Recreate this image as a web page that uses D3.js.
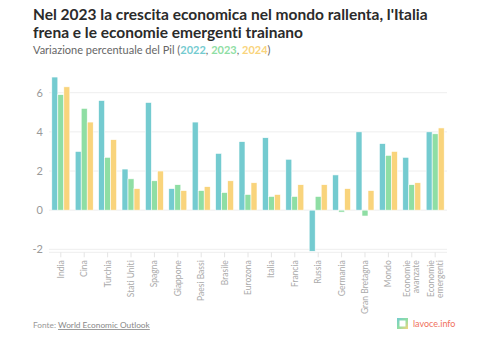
<!DOCTYPE html>
<html>
<head>
<meta charset="utf-8">
<script src="https://cdn.jsdelivr.net/npm/d3@7"></script>
<style>
  body { margin: 0; background: #fff; font-family: Lato, "Noto Sans", sans-serif; }
  svg { display: block; font-variant-ligatures: none; }
</style>
</head>
<body>
<div data-output></div>
<script>
const SIZE = { WIDTH: 500, HEIGHT: 338 };

// growth of GDP, % per year
const countries = ['India', 'Cina', 'Turchia', 'Stati Uniti', 'Spagna', 'Giappone', 'Paesi Bassi',
  'Brasile', 'Eurozona', 'Italia', 'Francia', 'Russia', 'Germania', 'Gran Bretagna', 'Mondo',
  'Economie avanzate', 'Economie emergenti'];
const years = ['2022', '2023', '2024'];
const v2022 = [6.8, 3.0, 5.6, 2.1, 5.5, 1.1, 4.5, 2.9, 3.5, 3.7, 2.6, -2.1, 1.8, 4.0, 3.4, 2.7, 4.0];
const v2023 = [5.9, 5.2, 2.7, 1.6, 1.5, 1.3, 1.0, 0.9, 0.8, 0.7, 0.7, 0.7, -0.1, -0.3, 2.8, 1.3, 3.9];
const v2024 = [6.3, 4.5, 3.6, 1.1, 2.0, 1.0, 1.2, 1.5, 1.4, 0.8, 1.3, 1.3, 1.1, 1.0, 3.0, 1.4, 4.2];
const yTicks = [-2, 0, 2, 4, 6];

const colors = { '2022': '#74cbd0', '2023': '#8fdea4', '2024': '#f9d47c' };

const series = { '2022': v2022, '2023': v2023, '2024': v2024 };
const data = countries.map((c, i) => ({
  name: c,
  values: years.map(y => ({ year: y, value: series[y][i] }))
}));

const margin = { top: 82, right: 53, bottom: 89, left: 49 };
const width = SIZE.WIDTH - margin.left - margin.right;

const svg = d3.select('[data-output]').append('svg')
  .attr('width', SIZE.WIDTH)
  .attr('height', SIZE.HEIGHT);

// titles
svg.append('text')
  .attr('x', 33).attr('y', 20)
  .attr('font-size', 15.5).attr('font-weight', 700).attr('fill', '#2b2b2b')
  .text("Nel 2023 la crescita economica nel mondo rallenta, l'Italia");
svg.append('text')
  .attr('x', 33).attr('y', 38)
  .attr('font-size', 15.5).attr('font-weight', 700).attr('fill', '#2b2b2b')
  .text('frena e le economie emergenti trainano');

const sub = svg.append('text')
  .attr('x', 33).attr('y', 54)
  .attr('font-size', 11).attr('fill', '#666');
sub.append('tspan').text('Variazione percentuale del Pil (');
years.forEach((y, i) => {
  sub.append('tspan').attr('fill', colors[y]).attr('font-weight', 700).text(y);
  sub.append('tspan').text(i < years.length - 1 ? ', ' : ')');
});

// scales
const x0 = d3.scaleBand().domain(countries).range([0, width]).paddingInner(0.23).paddingOuter(0.12);
const x1 = d3.scaleBand().domain(years).range([0, x0.bandwidth()]);
const y = d3.scaleLinear().domain([-2, 6]).range([249.3 - margin.top, 92.7 - margin.top]);

const g = svg.append('g').attr('transform', `translate(${margin.left}, ${margin.top})`);

// gridlines + y labels
g.append('g')
  .selectAll('line')
  .data(yTicks)
  .join('line')
  .attr('x1', 0).attr('x2', width)
  .attr('y1', d => y(d)).attr('y2', d => y(d))
  .attr('stroke', '#eeeeee').attr('stroke-width', 1);

g.append('g')
  .selectAll('text')
  .data(yTicks)
  .join('text')
  .attr('x', -6).attr('y', d => y(d)).attr('dy', '0.35em')
  .attr('text-anchor', 'end')
  .attr('font-size', 11).attr('fill', '#999')
  .text(d => d);

// bars
g.append('g')
  .selectAll('g')
  .data(data)
  .join('g')
  .attr('transform', d => `translate(${x0(d.name)}, 0)`)
  .selectAll('rect')
  .data(d => d.values)
  .join('rect')
  .attr('x', d => x1(d.year))
  .attr('width', x1.bandwidth())
  .attr('y', d => y(Math.max(0, d.value)))
  .attr('height', d => Math.abs(y(d.value) - y(0)))
  .attr('fill', d => colors[d.year])
  .attr('stroke', '#fff').attr('stroke-width', 0.6);

// x axis
const axisY = y(-2) + 3;
g.append('line')
  .attr('x1', 0).attr('x2', width)
  .attr('y1', axisY).attr('y2', axisY)
  .attr('stroke', '#eeeeee');

const xt = g.append('g').selectAll('g')
  .data(countries)
  .join('g')
  .attr('transform', d => `translate(${x0(d) + x0.bandwidth() / 2}, ${axisY})`);
xt.append('line').attr('y1', 0).attr('y2', 5).attr('stroke', '#e4e4e4');

xt.each(function (d) {
  const words = d.startsWith('Economie') ? d.split(' ') : [d];
  const t = d3.select(this).append('text')
    .attr('transform', 'rotate(-90)')
    .attr('text-anchor', 'end')
    .attr('font-size', 8.5).attr('fill', '#aaa');
  words.forEach((w, i) => {
    t.append('tspan')
      .attr('x', -8)
      .attr('y', (i - (words.length - 1) / 2) * 9)
      .attr('dy', '0.35em')
      .text(w);
  });
});

// footer
const foot = svg.append('text')
  .attr('x', 33).attr('y', 328)
  .attr('font-size', 8.3).attr('fill', '#999');
foot.append('tspan').text('Fonte: ');
foot.append('tspan').attr('text-decoration', 'underline').attr('fill', '#888').text('World Economic Outlook');

const grad = svg.append('defs').append('linearGradient')
  .attr('id', 'logo-grad').attr('x1', 0).attr('y1', 0).attr('x2', 1).attr('y2', 1);
grad.append('stop').attr('offset', '0%').attr('stop-color', colors['2022']);
grad.append('stop').attr('offset', '50%').attr('stop-color', colors['2023']);
grad.append('stop').attr('offset', '100%').attr('stop-color', colors['2024']);

svg.append('rect')
  .attr('x', 397).attr('y', 318).attr('width', 11).attr('height', 11)
  .attr('fill', 'url(#logo-grad)');
svg.append('rect')
  .attr('x', 399.5).attr('y', 320.5).attr('width', 6).attr('height', 6)
  .attr('fill', '#fff');
svg.append('text')
  .attr('x', 413).attr('y', 327)
  .attr('font-size', 9).attr('fill', '#f0705c')
  .text('lavoce.info');
</script>
</body>
</html>
